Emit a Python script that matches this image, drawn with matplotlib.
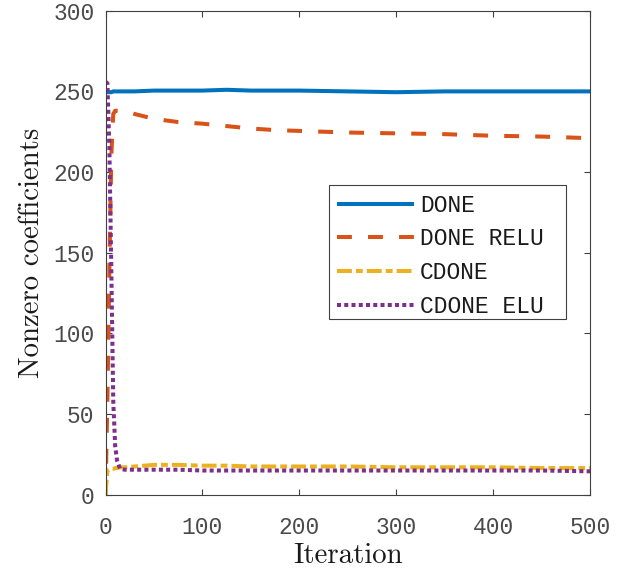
import matplotlib
matplotlib.use("Agg")
import matplotlib.pyplot as plt
from matplotlib.patches import Rectangle

iters = [0, 2, 4, 6, 8, 10, 12, 15, 20, 30, 50, 75, 100, 125, 150, 175, 200, 250, 300, 350, 400, 450, 500]
done = [249.5, 249.5, 249.5, 249.5, 250, 250, 250, 250, 250, 250, 250.5, 250.5, 250.5, 251, 250.5, 250.5, 250.5, 250, 249.5, 250, 250, 250, 250]
done_relu = [0, 60, 140, 210, 236, 238, 238, 238, 238, 236, 233, 231, 230, 228.5, 227, 226, 225.5, 224.5, 224, 223.5, 222.5, 222, 221]
cdone = [0, 15, 15.5, 16, 16, 16.5, 16.5, 17, 17, 17.5, 18.5, 18.5, 18, 18, 17.5, 17.5, 17.5, 17.5, 17, 17, 17, 16.5, 16.5]
cdone_elu = [256, 255, 215, 140, 58, 30, 21, 16, 15.5, 15.5, 15.5, 15.5, 15, 15, 15, 15, 15, 15, 15, 15, 15, 15, 14.5]
labels = ["DONE", "DONE RELU", "CDONE", "CDONE ELU"]
xticks = [0, 100, 200, 300, 400, 500]
yticks = [0, 50, 100, 150, 200, 250, 300]

fig = plt.figure(figsize=(6.28, 5.71), dpi=100)
ax = fig.add_axes([0.168, 0.1336, 0.7715, 0.8476])

lw = 2.9
ax.plot(iters, done, color="#0072BD", lw=lw, label=labels[0], solid_capstyle="butt")
ax.plot(iters, done_relu, color="#D95319", lw=lw, label=labels[1], dashes=(3.7, 4))
ax.plot(iters, cdone, color="#EDB120", lw=lw, label=labels[2], dashes=(3.7, 1, 1.7, 1))
ax.plot(iters, cdone_elu, color="#7E2F8E", lw=lw, label=labels[3], dashes=(1, 0.8))

ax.set_xlim(0, 500)
ax.set_ylim(0, 300)
ax.set_xticks(xticks)
ax.set_yticks(yticks)
spc = "#404040"
for s in ax.spines.values():
    s.set_color(spc)
    s.set_linewidth(0.8)
ax.tick_params(direction="in", length=4, width=0.8, colors=spc, top=True, right=True)
ax.tick_params(axis="x", pad=15)
ax.tick_params(axis="y", pad=8)
for t in ax.get_xticklabels() + ax.get_yticklabels():
    t.set_fontfamily("Liberation Mono")
    t.set_fontsize(16.5)
    t.set_color("#4a4a4a")

ax.set_xlabel("Iteration", fontfamily="cmr10", fontsize=20.8, color="#1a1a1a")
ax.set_ylabel("Nonzero coefficients", fontfamily="cmr10", fontsize=20.8, color="#1a1a1a")
ax.xaxis.set_label_coords(0.5, -0.1)
ax.yaxis.set_label_coords(-0.125, 0.5)

# legend frame
ax.add_patch(Rectangle((0.462, 0.363), 0.9510 - 0.462, 0.6405 - 0.363, transform=ax.transAxes,
                       facecolor="white", edgecolor=spc, lw=0.8, zorder=5))
leg = ax.legend(loc="upper left", bbox_to_anchor=(0.478, 0.6215), prop={"family": "Liberation Mono", "size": 16.5},
                frameon=False, handlelength=3.36, borderpad=0, borderaxespad=0,
                labelspacing=0.46, handletextpad=0.26)
leg.set_zorder(6)
for t in leg.get_texts():
    t.set_color("#1a1a1a")

fig.savefig("out.png", dpi=100)
